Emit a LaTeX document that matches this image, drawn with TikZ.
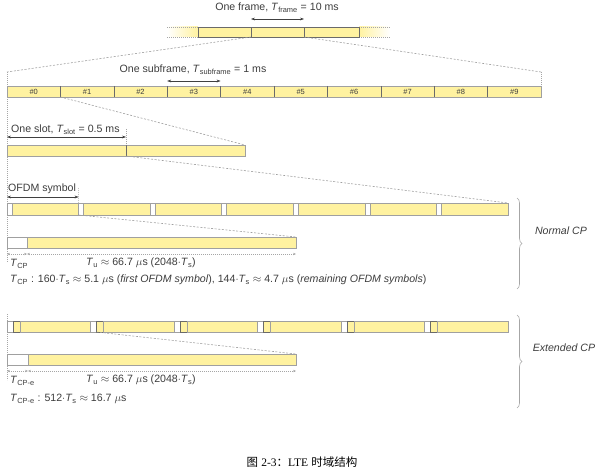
\documentclass[tikz,border=0pt]{standalone}
\usepackage{fontspec}
\setmainfont{Liberation Sans}
\newfontfamily\cjkf{Noto Sans CJK SC}
\newfontfamily\serf{Liberation Serif}
\usetikzlibrary{arrows.meta,decorations.pathreplacing}
\definecolor{ylw}{HTML}{FFF2A0}
\definecolor{bord}{HTML}{A0A0A0}
\definecolor{dkb}{HTML}{6A6A6A}
\definecolor{txt}{HTML}{3C3C3C}
\newcommand\Tx[1]{\textit{T}\textsubscript{#1}}
\begin{document}
\begin{tikzpicture}[x=1pt,y=-1pt,
  font=\fontsize{10.6}{12}\selectfont, text=txt,
  bodyn/.style={draw=bord, fill=ylw, line width=0.6pt, inner sep=0pt, outer sep=0pt, minimum height=11pt, anchor=north west},
  cpn/.style={draw=bord, fill=white, line width=0.6pt, inner sep=0pt, outer sep=0pt, minimum height=11pt, anchor=north west},
  frn/.style={draw=dkb, fill=ylw, line width=0.6pt, inner sep=0pt, outer sep=0pt, minimum height=10pt, anchor=north west},
  narrown/.style={draw=dkb, fill=ylw, line width=0.6pt, inner sep=0pt, outer sep=0pt, minimum height=11pt, anchor=north west},
  divl/.style={draw=dkb, line width=0.6pt},
  lab/.style={font=\fontsize{7.5}{8}\selectfont, text=txt, inner sep=0pt},
  dsh/.style={draw=gray!75, line width=0.6pt, dash pattern=on 2pt off 1.6pt},
  dotl/.style={draw=gray!70, line width=0.6pt, dash pattern=on 0.8pt off 1.2pt},
  meas/.style={draw=black!75, line width=0.5pt, {Stealth[length=4pt,width=2.8pt]}-{Stealth[length=4pt,width=2.8pt]}},
  dmeas/.style={draw=gray!70, line width=0.6pt, dash pattern=on 0.8pt off 1.2pt, {Stealth[length=3pt,width=2.4pt]}-{Stealth[length=3pt,width=2.4pt]}},
  brc/.style={draw=gray!70, line width=0.6pt, decorate, decoration={brace, amplitude=5pt}},
  txtn/.style={inner sep=0pt, anchor=west}]
\useasboundingbox (0,0) rectangle (600,476);

% ---------- frame row ----------
\shade[left color=white, right color=ylw] (167,27) rectangle (198,37);
\shade[left color=ylw, right color=white] (359,27) rectangle (390,37);
\draw[dotl] (167,27) -- (198,27) (167,37) -- (198,37);
\draw[dotl] (359,27) -- (390,27) (359,37) -- (390,37);
\node[frn, minimum width=53pt] (f0) at (198,27) {};
\node[frn, minimum width=53pt] (f1) at (251,27) {};
\node[frn, minimum width=55pt] (f2) at (304,27) {};
\coordinate (fa) at (251,19);
\coordinate (fb) at (304,19);
\draw[meas] (fa) -- (fb);
\node (tframe) at (277,8) {One frame, \Tx{frame} = 10 ms};

% ---------- subframe row ----------
\coordinate (subTL) at (7,72);
\coordinate (subTR) at (541,72);
\draw[dsh] (f1.south west) -- (subTL);
\draw[dsh] (f1.south east) -- (subTR);
\node[bodyn, minimum width=534pt] (sub) at (7,86) {};
\draw[dotl] (subTL) -- (sub.north west);
\draw[dotl] (subTR) -- (sub.north east);
\foreach \i in {0,...,9} {
  \node[lab] (n\i) at ({7+53.4*\i+26.7},91.7) {\#\i};
}
\foreach \i in {1,...,9} {
  \draw[divl] ({7+53.4*\i},86) -- ({7+53.4*\i},97);
}
\coordinate (sa) at (167.2,81);
\coordinate (sb) at (220.6,81);
\draw[meas] (sa) -- (sb);
\node (tsub) at (193,70) {One subframe, \Tx{subframe} = 1 ms};

% left guide lines
\coordinate (g0) at (7,97);
\coordinate (g1) at (7,262);
\draw[dotl] (g0) -- (g1);

% ---------- slot row ----------
\coordinate (d1) at (60.4,97);
\node[bodyn, minimum width=238pt] (slot) at (7,145) {};
\draw[dsh] (d1) -- (slot.north east);
\draw[divl] (126,145) -- (126,156);
\coordinate (sl0) at (7,137);
\coordinate (sl1) at (126,137);
\coordinate (slt) at (126,129);
\draw[meas] (sl0) -- (sl1);
\draw[dotl] (slt) -- (126,145);
\node[txtn] (tslot) at (11,130) {One slot, \Tx{slot} = 0.5 ms};

% ---------- normal CP OFDM row ----------
\coordinate (d2) at (126,156);
\coordinate (nr) at (508,203);
\draw[dsh] (d2) -- (nr);
\foreach \k in {0,...,6} {
  \pgfmathsetmacro\xa{7+71.57*\k}
  \pgfmathsetmacro\xb{\xa+5}
  \node[cpn, minimum width=5pt, minimum height=12pt] (c\k) at (\xa,203) {};
  \node[bodyn, minimum width=66.57pt, minimum height=12pt] (b\k) at (\xb,203) {};
}
\coordinate (o0) at (7,197);
\coordinate (o1) at (78.6,197);
\draw[meas] (o0) -- (o1);
\draw[dotl] (78.6,188) -- (b0.north east);
\node[txtn] (tofdm) at (8,189) {OFDM symbol};

% expanded normal symbol
\coordinate (ex1) at (296,237);
\draw[dsh] (b0.south east) -- (ex1);
\node[cpn, minimum width=20pt] (ecp) at (7,237) {};
\node[bodyn, minimum width=269pt] (eu) at (27,237) {};
\coordinate (m0) at (7,254);
\coordinate (m1) at (27,254);
\coordinate (m2) at (296,254);
\draw[dmeas] (m0) -- (m1);
\draw[dmeas] (m1) -- (m2);
\node[txtn] (tcp) at (10,264) {\Tx{CP}};
\node[txtn] (tu) at (86,263) {\Tx{u} $\approx$ 66.7 $\mu$s (2048$\cdot$\Tx{s})};
\node[txtn] (tcpd) at (10,280) {\Tx{CP} : 160$\cdot$\Tx{s} $\approx$ 5.1 $\mu$s (\textit{first OFDM symbol}), 144$\cdot$\Tx{s} $\approx$ 4.7 $\mu$s (\textit{remaining OFDM symbols})};

\coordinate (br0) at (517,198);
\coordinate (br1) at (517,289);
\draw[brc] (br0) -- (br1);
\node (normal) at (561,231) {\textit{Normal CP}};

% ---------- extended CP OFDM row ----------
\coordinate (h0) at (7,314);
\coordinate (h1) at (7,380);
\draw[dotl] (h0) -- (h1);
\foreach \k in {0,...,5} {
  \pgfmathsetmacro\xa{7+83.5*\k}
  \pgfmathsetmacro\xb{\xa+6}
  \pgfmathsetmacro\xc{\xa+13}
  \node[cpn, minimum width=6pt] (xc\k) at (\xa,321) {};
  \node[narrown, minimum width=7pt] (xn\k) at (\xb,321) {};
  \node[bodyn, minimum width=70.5pt] (xb\k) at (\xc,321) {};
}
\coordinate (ex2) at (296,354);
\draw[dsh] (xc1.south east) -- (ex2);
\node[cpn, minimum width=21pt] (xecp) at (7,354) {};
\node[bodyn, minimum width=268pt] (xeu) at (28,354) {};
\coordinate (q0) at (7,371);
\coordinate (q1) at (28,371);
\coordinate (q2) at (296,371);
\draw[dmeas] (q0) -- (q1);
\draw[dmeas] (q1) -- (q2);
\node[txtn] (tcpe) at (10,381) {\Tx{CP-e}};
\node[txtn] (tue) at (86,380) {\Tx{u} $\approx$ 66.7 $\mu$s (2048$\cdot$\Tx{s})};
\node[txtn] (tcped) at (10,399) {\Tx{CP-e} : 512$\cdot$\Tx{s} $\approx$ 16.7 $\mu$s};

\coordinate (br2) at (517,315);
\coordinate (br3) at (517,408);
\draw[brc] (br2) -- (br3);
\node (extended) at (564,348) {\textit{Extended CP}};

% ---------- caption ----------
\node[text=black, font=\fontsize{11.5}{13}\selectfont] (cap) at (302,462) {{\cjkf 图} {\serf 2-3}{\cjkf ：}{\serf LTE} {\cjkf 时域结构}};
\end{tikzpicture}
\end{document}
